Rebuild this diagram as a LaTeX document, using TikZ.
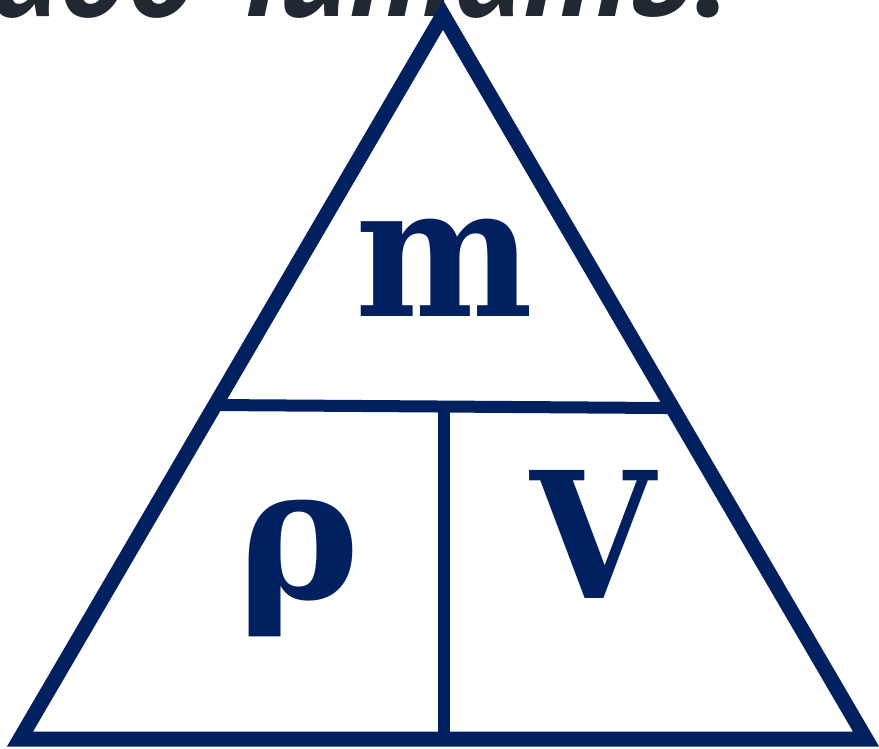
\documentclass[tikz,border=0pt]{standalone}
\usepackage{fontspec}
\usetikzlibrary{calc}
\newfontfamily\headfont{PT Sans}
\newfontfamily\letterfont{DejaVu Serif}
\definecolor{navy}{RGB}{0,32,96}
\definecolor{inkgray}{RGB}{33,40,49}
\tikzset{
  frame/.style={draw=navy, line width=15pt*0.02/0.03514, line join=miter},
  divider/.style={draw=navy, line width=12pt*0.02/0.03514},
  symbol/.style={text=navy, inner sep=0pt, font=\letterfont\bfseries}
}
\begin{document}
\begin{tikzpicture}[x=0.02cm, y=-0.02cm]
  \useasboundingbox (0,0) rectangle (879,748);
  \clip (0,0) rectangle (879,748);
  % cut-off caption line
  \node[anchor=base east, inner sep=0pt, text=inkgray,
        font=\headfont\bfseries\itshape\fontsize{78}{80}\selectfont]
        (caption) at (727,16) {надо\hspace{-0.13em} читать.};
  % triangle
  \coordinate (L) at (20,739);
  \coordinate (R) at (866,739);
  \coordinate (T) at (443,15);
  \draw[frame] (L) -- (R) -- (T) -- cycle;
  \coordinate (ML) at ($(L)!0.4613!(T)$);
  \coordinate (MR) at ($(R)!0.4571!(T)$);
  \coordinate (MB) at (444,739);
  \coordinate (MM) at (444,404);
  \draw[divider] (ML) -- (MR);
  \draw[divider] (MM) -- (MB);
  % quantities
  \node[symbol, font=\letterfont\bfseries\fontsize{104}{104}\selectfont] (mass) at (444,268) {\scalebox{0.92}[1]{m}};
  \node[symbol, font=\letterfont\bfseries\fontsize{105}{105}\selectfont] (rho) at (299,568) {ρ};
  \node[symbol, font=\letterfont\bfseries\fontsize{100}{100}\selectfont] (vol) at (593,534) {\scalebox{0.92}[1]{V}};
\end{tikzpicture}
\end{document}
